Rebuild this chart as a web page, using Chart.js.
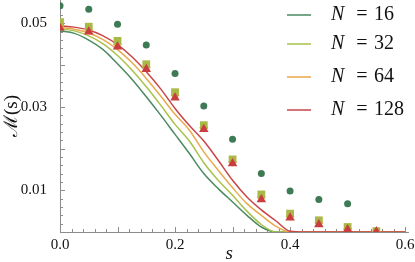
<!DOCTYPE html>
<html>
<head>
<meta charset="utf-8">
<script src="https://cdn.jsdelivr.net/npm/chart.js@4.4.1/dist/chart.umd.min.js"></script>
<style>
    html, body { margin: 0; padding: 0; background: #fff; }
</style>
</head>
<body>
<canvas id="chart" width="415" height="262"></canvas>
<script>
// s values of the smooth curves and of the markers
var sGrid = [0, 0.025, 0.05, 0.075, 0.1, 0.125, 0.15, 0.175, 0.2, 0.225, 0.25, 0.275, 0.3,
    0.325, 0.35, 0.375, 0.4, 0.425, 0.45, 0.475, 0.5, 0.525, 0.55, 0.575, 0.6];
var sMarks = [0, 0.05, 0.1, 0.15, 0.2, 0.25, 0.3, 0.35, 0.4, 0.45, 0.5, 0.55];

var seriesLabels = ["16", "32", "64", "128"];

// curves
var line16 = [0.0482, 0.0476, 0.0460, 0.0437, 0.0403, 0.0366, 0.0324, 0.0280, 0.0234, 0.0188,
    0.0140, 0.0104, 0.0072, 0.0040, 0.0012, 0, 0, 0, 0, 0, 0, 0, 0, 0, 0];
var line32 = [0.0487, 0.0482, 0.0470, 0.0451, 0.0423, 0.0388, 0.0348, 0.0304, 0.0258, 0.0218,
    0.0166, 0.0124, 0.0088, 0.0050, 0.0018, 0, 0, 0, 0, 0, 0, 0, 0, 0, 0];
var line64 = [0.0490, 0.0486, 0.0477, 0.0461, 0.0437, 0.0406, 0.0368, 0.0326, 0.0282, 0.0244,
    0.0192, 0.0148, 0.0106, 0.0068, 0.0040, 0.0014, 0, 0, 0, 0, 0, 0, 0, 0, 0];
var line128 = [0.0494, 0.0491, 0.0484, 0.0470, 0.0449, 0.0420, 0.0384, 0.0343, 0.0296, 0.0255,
    0.0218, 0.0172, 0.0124, 0.0084, 0.0053, 0.0027, 0.0002, 0, 0, 0, 0, 0, 0, 0, 0];

// markers
var mark16 = [0.0542, 0.0534, 0.0498, 0.0448, 0.0380, 0.0302, 0.0222, 0.0140, 0.0098, 0.0078, 0.0068];
var mark32 = [0.0503, 0.0492, 0.0458, 0.0402, 0.0335, 0.0256, 0.0174, 0.0090, 0.0044, 0.0028, 0.0012, 0.0002];
var mark64 = [0.0495, 0.0484, 0.0450, 0.0395, 0.0328, 0.0250, 0.0168, 0.0083, 0.0038, 0.0022, 0.0008, 0.0001];
var mark128 = [0.0489, 0.0480, 0.0444, 0.0390, 0.0322, 0.0246, 0.0164, 0.0078, 0.0034, 0.0018, 0.0006, 0.0001];

var xTicks = [0, 0.2, 0.4, 0.6];
var xTickLabels = ["0.0", "0.2", "0.4", "0.6"];
var yTicks = [0.01, 0.03, 0.05];
var yTickLabels = ["0.01", "0.03", "0.05"];

var lineColors = ["#4b8a60", "#a9c24a", "#e9a94c", "#c9454a"];
var serif = "'Liberation Serif', 'DejaVu Serif', serif";

function pts(xs, ys) {
    return ys.map(function (v, i) {
        return { x: xs[i], y: v };
    });
}

function curve(values, i) {
    return {
        label: "N = " + seriesLabels[i],
        data: pts(sGrid, values),
        showLine: true,
        borderColor: lineColors[i],
        borderWidth: 1.5,
        pointRadius: 0,
        fill: false,
        cubicInterpolationMode: "monotone",
        order: 20 - i,
    };
}

function markers(values, style, color, r, order) {
    return {
        data: pts(sMarks, values),
        showLine: false,
        pointStyle: style,
        pointRadius: r,
        pointBackgroundColor: color,
        pointBorderWidth: 0,
        order: order,
    };
}

// tick marks pointing into the plot, like the original
var innerTicks = {
    id: "innerTicks",
    beforeDatasetsDraw: function (chart) {
        var ctx = chart.ctx;
        var xs = chart.scales.x;
        var ys = chart.scales.y;
        var a = chart.chartArea;
        ctx.save();
        ctx.strokeStyle = "#8c8c8c";
        ctx.lineWidth = 1;
        ctx.beginPath();
        for (var i = 0; i * 0.02 <= xs.max + 1e-9; i++) {
            var px = Math.round(xs.getPixelForValue(i * 0.02)) + 0.5;
            var len = i % 5 === 0 ? 5 : 3;
            ctx.moveTo(px, a.bottom);
            ctx.lineTo(px, a.bottom - len);
        }
        for (var j = 1; j * 0.002 <= ys.max; j++) {
            var py = Math.round(ys.getPixelForValue(j * 0.002)) + 0.5;
            var l2 = j % 5 === 0 ? 5 : 3;
            ctx.moveTo(a.left, py);
            ctx.lineTo(a.left + l2, py);
        }
        ctx.stroke();
        ctx.restore();
    },
};

// legend inside the plot, top right
var mathLegend = {
    id: "mathLegend",
    afterDraw: function (chart) {
        var ctx = chart.ctx;
        var rows = [15, 44, 77, 110];
        ctx.save();
        for (var i = 0; i < seriesLabels.length; i++) {
            var y = rows[i];
            ctx.strokeStyle = lineColors[i];
            ctx.lineWidth = 1.5;
            ctx.beginPath();
            ctx.moveTo(287, y);
            ctx.lineTo(311, y);
            ctx.stroke();

            ctx.fillStyle = "#111";
            ctx.textBaseline = "middle";
            ctx.textAlign = "left";
            ctx.font = "italic 20px " + serif;
            ctx.fillText("N", 331, y);
            ctx.font = "20px " + serif;
            ctx.textAlign = "center";
            ctx.fillText("=", 362, y);
            ctx.textAlign = "left";
            ctx.fillText(seriesLabels[i], 374, y);
        }
        ctx.restore();
    },
};

var ctx = document.getElementById("chart").getContext("2d");
var chart = new Chart(ctx, {
    type: "scatter",
    data: {
        datasets: [
            curve(line16, 0),
            curve(line32, 1),
            curve(line64, 2),
            curve(line128, 3),
            markers(mark16, "circle", "#3d7a55", 3.5, 9),
            markers(mark64, "rectRot", "#eba24a", 4.5, 8),
            markers(mark32, "rect", "#a9b846", 5.5, 7),
            markers(mark128, "triangle", "#c93d3f", 5.5, 6),
        ],
    },
    options: {
        responsive: false,
        animation: false,
        layout: { autoPadding: false, padding: { top: 0, right: 7, left: 0, bottom: 0 } },
        plugins: {
            legend: { display: false },
            tooltip: { enabled: false },
        },
        scales: {
            x: {
                type: "linear",
                min: 0,
                max: 0.605,
                grid: { display: false },
                border: { display: true, color: "#8c8c8c", width: 1 },
                afterBuildTicks: function (scale) {
                    scale.ticks = xTicks.map(function (v) {
                        return { value: v };
                    });
                },
                afterFit: function (scale) {
                    scale.height = 30;
                    scale.paddingLeft = 0;
                    scale.paddingRight = 0;
                },
                ticks: {
                    autoSkip: false,
                    maxRotation: 0,
                    padding: -4,
                    color: "#111",
                    font: { family: serif, size: 15 },
                    callback: function (v) {
                        var k = xTicks.indexOf(v);
                        return k >= 0 ? xTickLabels[k] : "";
                    },
                },
                title: {
                    display: true,
                    text: "s\u2002",
                    color: "#111",
                    padding: { top: 0, bottom: -3 },
                    font: { family: serif, size: 19, style: "italic" },
                },
            },
            y: {
                type: "linear",
                min: 0,
                max: 0.0556,
                grid: { display: false },
                border: { display: true, color: "#8c8c8c", width: 1 },
                afterBuildTicks: function (scale) {
                    scale.ticks = yTicks.map(function (v) {
                        return { value: v };
                    });
                },
                afterFit: function (scale) {
                    scale.width = 60;
                    scale.paddingTop = 0;
                    scale.paddingBottom = 0;
                },
                ticks: {
                    autoSkip: false,
                    padding: 5,
                    color: "#111",
                    font: { family: serif, size: 15 },
                    callback: function (v) {
                        var k = yTicks.indexOf(v);
                        return k >= 0 ? yTickLabels[k] : "";
                    },
                },
                title: {
                    display: true,
                    text: "\u2133(s)",
                    color: "#111",
                    padding: { top: 1, bottom: 0 },
                    font: { family: serif, size: 19 },
                },
            },
        },
    },
    plugins: [innerTicks, mathLegend],
});
</script>
</body>
</html>
